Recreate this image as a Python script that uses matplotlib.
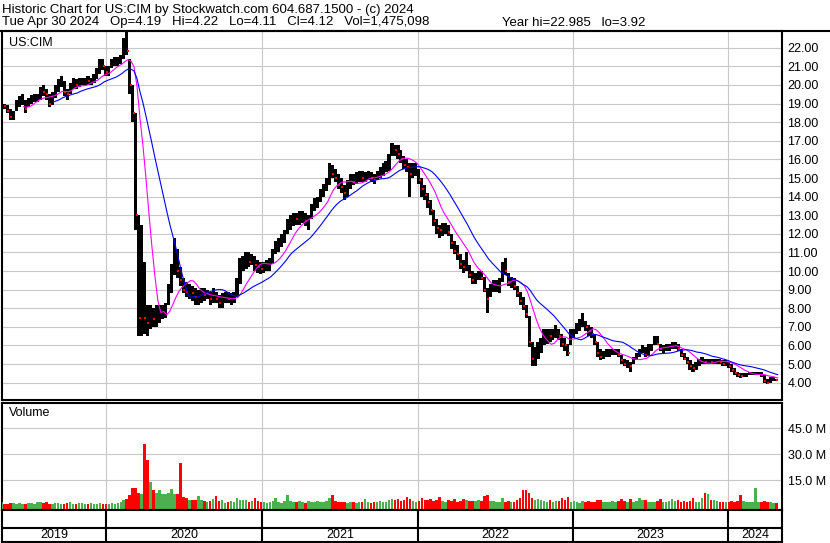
"""
Stockwatch-style historic chart for US:CIM (weekly bars, 5 years) -> out.png
"""
import matplotlib
matplotlib.use("Agg")
import matplotlib.pyplot as plt
from matplotlib.lines import Line2D
import numpy as np
import pandas as pd

plt.rcParams["font.family"] = ["Liberation Sans", "DejaVu Sans"]

# ── data (weekly, Fridays from 2019-05-03) ─────────────────────────────────
week_start = "2019-05-03"

price_hi = [
    19.1, 19.0, 18.9, 18.7, 18.6, 19.2, 19.4, 19.5, 19.2, 19.3,
    19.45, 19.5, 19.5, 19.9, 20.0, 19.8, 19.5, 19.6, 20.0, 20.3,
    20.5, 20.2, 19.8, 20.1, 20.4, 20.3, 20.4, 20.4, 20.4, 20.5,
    20.4, 20.6, 20.9, 21.4, 21.4, 21.0, 21.0, 21.4, 21.5, 21.5,
    21.6, 22.5, 22.98, 21.4, 20.0, 18.5, 13.0, 12.5, 10.5, 8.2,
    8.2, 8.0, 8.2, 8.2, 8.2, 8.3, 9.3, 10.4, 11.8, 11.2,
    10.2, 9.6, 9.4, 9.3, 9.2, 9.1, 9.0, 9.1, 9.1, 9.0,
    8.9, 9.1, 8.9, 8.7, 8.8, 8.9, 8.9, 8.8, 8.9, 9.6,
    10.7, 10.8, 11.0, 11.0, 10.9, 10.8, 10.6, 10.5, 10.5, 10.6,
    10.7, 11.2, 11.6, 11.8, 12.0, 12.2, 12.8, 13.0, 13.1, 13.1,
    13.2, 13.25, 13.1, 13.0, 13.6, 13.9, 14.0, 14.4, 14.7, 15.0,
    15.8, 15.7, 15.5, 15.2, 15.0, 14.6, 14.9, 15.2, 15.2, 15.3,
    15.4, 15.4, 15.3, 15.4, 15.3, 15.2, 15.4, 15.6, 15.8, 15.9,
    16.3, 16.9, 16.8, 16.8, 16.5, 16.2, 16.0, 15.8, 15.8, 15.8,
    15.5, 15.0, 14.6, 14.2, 13.8, 13.3, 12.8, 12.5, 12.6, 12.6,
    12.5, 12.0, 11.6, 11.4, 10.9, 10.6, 11.0, 10.3, 10.0, 9.9,
    10.0, 10.0, 9.7, 9.1, 9.3, 9.5, 9.5, 9.6, 10.5, 10.7,
    9.9, 9.7, 9.6, 9.2, 8.9, 8.6, 8.2, 7.6, 6.2, 5.9,
    6.2, 6.4, 6.9, 6.9, 6.9, 6.9, 7.1, 6.9, 6.6, 6.4,
    6.1, 6.9, 6.9, 7.2, 7.4, 7.75, 7.3, 7.1, 7.0, 6.6,
    6.2, 5.8, 5.7, 5.8, 5.8, 5.8, 5.8, 5.8, 5.5, 5.3,
    5.2, 5.1, 5.4, 5.6, 5.8, 6.0, 5.9, 6.1, 6.1, 6.5,
    6.5, 6.1, 6.0, 6.1, 6.1, 6.2, 6.2, 6.1, 5.8, 5.6,
    5.4, 5.2, 5.0, 5.1, 5.3, 5.4, 5.3, 5.3, 5.3, 5.3,
    5.3, 5.3, 5.2, 5.2, 5.1, 5.0, 4.8, 4.6, 4.5, 4.5,
    4.5, 4.6, 4.6, 4.6, 4.6, 4.6, 4.4, 4.2, 4.3, 4.3,
    4.22,
]

price_lo = [
    18.8, 18.7, 18.5, 18.1, 18.1, 18.6, 18.8, 18.9, 18.5, 18.8,
    19.0, 19.1, 19.1, 19.2, 19.4, 19.2, 18.8, 18.9, 19.3, 19.6,
    19.9, 19.4, 19.2, 19.5, 19.8, 19.8, 19.9, 20.0, 20.0, 20.0,
    20.0, 20.1, 20.3, 20.6, 20.8, 20.5, 20.5, 20.9, 21.0, 21.0,
    21.1, 21.4, 21.6, 19.5, 18.0, 12.2, 6.5, 6.5, 6.6, 6.5,
    6.9, 7.0, 7.0, 7.2, 7.4, 7.5, 8.2, 8.8, 9.8, 9.6,
    9.2, 8.8, 8.6, 8.5, 8.4, 8.2, 8.2, 8.3, 8.4, 8.5,
    8.2, 8.3, 8.3, 8.0, 8.0, 8.3, 8.3, 8.2, 8.3, 8.6,
    9.3, 10.0, 10.1, 10.2, 10.3, 10.0, 9.9, 9.85, 9.9, 10.0,
    10.0, 10.4, 10.9, 11.0, 11.3, 11.5, 12.0, 12.2, 12.4, 12.5,
    12.5, 12.6, 12.4, 12.2, 12.8, 13.2, 13.4, 13.7, 14.0, 14.3,
    14.6, 15.0, 14.8, 14.4, 14.2, 13.8, 14.0, 14.4, 14.6, 14.7,
    14.8, 14.8, 14.8, 14.9, 14.8, 14.7, 14.9, 15.0, 15.1, 15.3,
    15.4, 16.2, 16.2, 16.0, 15.8, 15.5, 15.3, 14.0, 15.0, 15.1,
    14.7, 14.0, 13.8, 13.4, 13.0, 12.4, 12.0, 11.8, 11.9, 12.0,
    11.9, 11.2, 10.9, 10.6, 10.1, 9.9, 10.0, 9.6, 9.3, 9.3,
    9.5, 9.5, 8.9, 7.75, 8.6, 8.9, 8.9, 8.8, 9.4, 9.8,
    9.2, 9.1, 9.0, 8.6, 8.2, 7.9, 7.5, 5.9, 4.9, 4.9,
    5.3, 5.6, 6.0, 6.1, 6.2, 6.3, 6.4, 6.3, 5.9, 5.7,
    5.45, 6.0, 6.4, 6.6, 6.8, 7.0, 6.8, 6.5, 6.4, 6.0,
    5.4, 5.2, 5.3, 5.4, 5.4, 5.5, 5.5, 5.4, 5.0, 4.9,
    4.8, 4.6, 5.0, 5.2, 5.4, 5.6, 5.4, 5.5, 5.7, 6.0,
    6.0, 5.7, 5.6, 5.7, 5.7, 5.8, 5.8, 5.7, 5.4, 5.2,
    5.0, 4.7, 4.6, 4.7, 4.9, 5.0, 5.0, 5.0, 5.0, 5.0,
    5.0, 5.0, 4.9, 4.9, 4.8, 4.6, 4.4, 4.3, 4.25, 4.3,
    4.3, 4.4, 4.4, 4.4, 4.4, 4.3, 4.0, 3.92, 4.0, 4.1,
    4.11,
]

price_cl = [
    18.9, 18.85, 18.6, 18.3, 18.5, 19.0, 19.2, 19.3, 18.7, 19.1,
    19.3, 19.35, 19.4, 19.7, 19.6, 19.5, 19.0, 19.4, 19.8, 20.1,
    20.2, 19.6, 19.5, 19.9, 20.1, 20.0, 20.2, 20.2, 20.3, 20.2,
    20.2, 20.4, 20.7, 21.2, 21.0, 20.7, 20.9, 21.2, 21.3, 21.3,
    21.4, 22.3, 21.8, 20.0, 18.5, 13.0, 7.5, 9.5, 7.5, 7.2,
    7.5, 7.4, 7.8, 7.8, 7.9, 8.1, 9.0, 10.0, 10.5, 10.0,
    9.5, 9.0, 8.9, 9.0, 8.8, 8.6, 8.6, 8.8, 8.7, 8.7,
    8.5, 8.8, 8.5, 8.3, 8.4, 8.6, 8.5, 8.5, 8.6, 9.4,
    10.3, 10.5, 10.7, 10.5, 10.6, 10.3, 10.2, 10.1, 10.3, 10.4,
    10.5, 11.0, 11.4, 11.6, 11.8, 12.0, 12.6, 12.7, 12.9, 12.8,
    12.9, 13.0, 12.7, 12.8, 13.4, 13.6, 13.8, 14.2, 14.5, 14.8,
    15.5, 15.2, 15.0, 14.6, 14.5, 14.2, 14.7, 14.9, 14.8, 15.0,
    15.1, 15.0, 15.1, 15.2, 15.0, 14.9, 15.2, 15.4, 15.6, 15.7,
    16.1, 16.6, 16.5, 16.3, 16.0, 15.7, 15.6, 15.2, 15.4, 15.5,
    14.9, 14.4, 14.1, 13.7, 13.3, 12.7, 12.3, 12.2, 12.3, 12.4,
    12.1, 11.5, 11.1, 10.9, 10.4, 10.2, 10.5, 9.8, 9.5, 9.6,
    9.7, 9.6, 9.0, 8.5, 9.0, 9.2, 9.2, 9.4, 10.2, 10.0,
    9.4, 9.5, 9.2, 8.8, 8.4, 8.1, 7.7, 6.2, 5.3, 5.4,
    5.9, 6.1, 6.5, 6.6, 6.5, 6.6, 6.8, 6.5, 6.1, 6.0,
    5.6, 6.6, 6.7, 7.0, 7.1, 7.4, 7.0, 6.8, 6.6, 6.2,
    5.6, 5.4, 5.5, 5.6, 5.6, 5.6, 5.7, 5.5, 5.2, 5.0,
    5.0, 4.9, 5.3, 5.4, 5.6, 5.8, 5.5, 5.9, 5.9, 6.3,
    6.1, 5.8, 5.8, 5.9, 5.9, 6.0, 6.1, 5.8, 5.5, 5.3,
    5.1, 4.9, 4.8, 4.9, 5.2, 5.2, 5.1, 5.2, 5.1, 5.2,
    5.2, 5.1, 5.0, 5.1, 4.9, 4.7, 4.5, 4.4, 4.35, 4.4,
    4.4, 4.5, 4.5, 4.5, 4.5, 4.4, 4.1, 4.0, 4.2, 4.2,
    4.12,
]

# volume in millions of shares
volume_m = [
    2.5, 1.5, 1.2, 2.0, 1.8, 1.5, 2.2, 1.6, 1.4, 1.8,
    2.0, 1.5, 2.5, 2.4, 1.8, 2.6, 1.6, 1.4, 2.0, 2.2,
    1.5, 1.6, 1.8, 2.5, 1.4, 1.6, 2.0, 1.8, 1.3, 1.5,
    2.2, 1.4, 1.6, 2.0, 1.5, 1.2, 1.4, 1.8, 1.5, 2.0,
    2.5, 3.5, 4.5, 6.5, 10.5, 10.6, 8.0, 7.0, 36.0, 26.7,
    14.0, 9.5, 7.5, 9.5, 7.0, 7.0, 8.0, 10.0, 7.0, 7.0,
    25.0, 5.5, 5.0, 3.5, 3.5, 3.5, 6.0, 3.5, 3.0, 2.5,
    3.0, 4.0, 6.0, 3.0, 3.5, 2.0, 2.5, 3.0, 2.5, 5.0,
    3.5, 3.5, 3.5, 2.5, 3.0, 5.0, 3.0, 2.5, 2.5, 2.0,
    2.8, 3.0, 5.0, 2.5, 2.2, 3.0, 6.5, 3.0, 2.5, 2.8,
    3.0, 2.5, 2.2, 3.0, 2.8, 2.5, 3.2, 2.6, 2.4, 3.0,
    5.0, 6.5, 3.0, 2.5, 2.4, 2.8, 2.2, 2.6, 2.4, 2.2,
    2.5, 2.8, 4.0, 2.5, 2.2, 2.8, 2.6, 3.0, 2.5, 2.8,
    3.5, 4.0, 3.5, 4.0, 3.0, 3.5, 5.5, 4.0, 3.0, 2.5,
    3.0, 5.0, 3.5, 3.5, 4.0, 3.0, 3.5, 5.5, 3.0, 2.5,
    3.5, 3.0, 4.0, 2.8, 3.0, 4.0, 3.5, 3.0, 3.2, 3.0,
    3.5, 3.0, 6.0, 6.5, 3.0, 3.0, 2.5, 2.8, 5.0, 2.5,
    3.0, 2.4, 2.8, 3.5, 5.0, 9.5, 9.5, 7.5, 5.0, 3.5,
    4.0, 3.5, 3.0, 2.5, 3.5, 2.5, 3.0, 3.0, 5.0, 3.5,
    5.5, 2.5, 3.0, 2.5, 2.2, 3.0, 2.5, 3.0, 2.5, 2.5,
    3.5, 3.5, 2.8, 2.5, 2.4, 3.0, 2.5, 3.0, 4.0, 3.0,
    2.5, 4.0, 2.5, 3.0, 5.0, 3.5, 3.5, 2.5, 2.8, 2.5,
    3.0, 4.0, 2.5, 2.5, 3.0, 4.0, 3.0, 3.5, 2.5, 3.0,
    2.5, 3.0, 5.0, 2.5, 2.8, 5.0, 7.5, 7.0, 3.5, 3.5,
    3.0, 2.5, 2.5, 2.5, 2.5, 3.0, 2.5, 3.0, 6.5, 3.0,
    2.5, 2.5, 2.5, 10.5, 2.5, 2.5, 3.0, 2.5, 2.5, 2.2,
    2.0,
]

year_labels = ["2019", "2020", "2021", "2022", "2023", "2024"]
price_ticks = list(range(4, 23))
volume_ticks = [15, 30, 45]

title_1 = "Historic Chart for US:CIM by Stockwatch.com 604.687.1500 - (c) 2024"
title_2 = ("Tue Apr 30 2024   Op=4.19   Hi=4.22   Lo=4.11   Cl=4.12   "
           "Vol=1,475,098")
title_3 = "Year hi=22.985   lo=3.92"

# ── figure layout (pixel boxes) ────────────────────────────────────────────
W, H = 830, 543
fig = plt.figure(figsize=(W / 100, H / 100), dpi=100)


def box(x0, y0, x1, y1):
    return [x0 / W, 1 - y1 / H, (x1 - x0) / W, (y1 - y0) / H]


GRID = "#c8c8c8"
BORDER_LW = 1.5

dates = pd.date_range(week_start, periods=len(price_cl), freq="7D")
hi = np.array(price_hi)
lo = np.array(price_lo)
cl = pd.Series(price_cl, index=dates)
vol = np.array(volume_m)
down = np.r_[False, np.diff(cl.values) < 0]

xlim = (pd.Timestamp("2019-05-01"), pd.Timestamp("2024-05-06"))
year_edges = [pd.Timestamp(f"{y}-01-01") for y in range(2019, 2026)]
inner_edges = year_edges[1:-1]

ax_p = fig.add_axes(box(2, 31, 782, 400))
ax_v = fig.add_axes(box(2, 402.5, 782, 509.5))
ax_d = fig.add_axes(box(2, 509.5, 782, 541.5))

for ax in (ax_p, ax_v, ax_d):
    ax.set_xlim(*xlim)
    for s in ax.spines.values():
        s.set_linewidth(BORDER_LW)
        s.set_color("black")
    ax.tick_params(axis="x", length=0, labelbottom=False)

# ── price panel ────────────────────────────────────────────────────────────
bar_x = dates - pd.Timedelta(days=3)
ax_p.bar(bar_x, hi - lo, bottom=lo, width=7.3, color="black",
         linewidth=0, zorder=3)
ax_p.plot(dates[down] - pd.Timedelta(days=1), cl.values[down], "s",
          ms=1.8, mew=0, color="red", zorder=4)

ma_fast = cl.rolling(8).mean()
ma_slow = cl.rolling(18).mean()
ax_p.plot(dates, ma_fast, color="#ff00ff", lw=0.8, zorder=5)
ax_p.plot(dates, ma_slow, color="#0000ff", lw=0.8, zorder=5)

ax_p.set_ylim(3.07, 22.9)
ax_p.set_yticks(price_ticks)
ax_p.set_yticklabels([f"{t:.2f}" for t in price_ticks])
ax_p.yaxis.tick_right()
ax_p.tick_params(axis="y", length=0, pad=4, labelsize=9)
ax_p.set_xticks(inner_edges)
ax_p.grid(True, color=GRID, lw=0.8, zorder=0)
ax_p.set_axisbelow(True)
ax_p.text(7 / 780, 1 - 12 / 369, "US:CIM", transform=ax_p.transAxes,
          fontsize=9, va="center", ha="left")

# ── volume panel ───────────────────────────────────────────────────────────
v_bottom = -1.8
vcol = np.where(down, "#ff0000", "#4caf50")
ax_v.bar(bar_x, vol - v_bottom, bottom=v_bottom, width=6, color=vcol,
         linewidth=0, zorder=3)
ax_v.set_ylim(v_bottom, 59.9)
ax_v.set_yticks(volume_ticks)
ax_v.set_yticklabels([f"{t:.1f} M" for t in volume_ticks])
ax_v.yaxis.tick_right()
ax_v.tick_params(axis="y", length=0, pad=4, labelsize=9)
ax_v.set_xticks(inner_edges)
ax_v.grid(True, color=GRID, lw=0.8, zorder=0)
ax_v.set_axisbelow(True)
ax_v.text(7 / 780, 1 - 10.5 / 107, "Volume", transform=ax_v.transAxes,
          fontsize=9, va="center", ha="left")

# ── date band ──────────────────────────────────────────────────────────────
ax_d.set_ylim(0, 1)
ax_d.set_yticks([])
ax_d.axhline((541.5 - 527.5) / 32, color="black", lw=BORDER_LW)
for e in inner_edges:
    ax_d.axvline(e, color="black", lw=BORDER_LW)
for lab, a, b in zip(year_labels, year_edges[:-1], year_edges[1:]):
    a, b = max(a, xlim[0]), min(b, xlim[1])
    ax_d.text(a + (b - a) / 2, (541.5 - 534.5) / 32, lab, fontsize=9,
              ha="center", va="center")

# ── header ─────────────────────────────────────────────────────────────────
fig.add_artist(Line2D([0, 1], [1 - 31 / H] * 2, color="black",
                      lw=BORDER_LW, transform=fig.transFigure))
fig.text(2 / W, 1 - 9.5 / H, title_1, fontsize=9.5, va="center", ha="left")
fig.text(2 / W, 1 - 22.5 / H, title_2, fontsize=9.5, va="center", ha="left")
fig.text(645 / W, 1 - 22.5 / H, title_3, fontsize=9.5, va="center",
         ha="right")

fig.savefig("out.png", dpi=100)
